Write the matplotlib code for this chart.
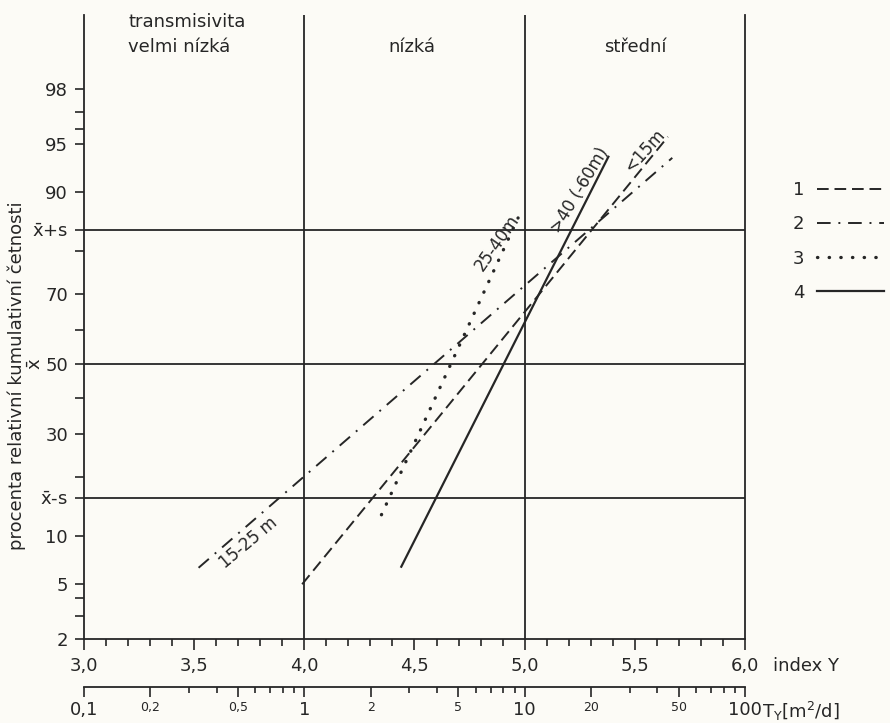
import math
import numpy as np
import matplotlib
matplotlib.use("Agg")
import matplotlib.pyplot as plt
from matplotlib.lines import Line2D
from matplotlib.ticker import FixedLocator, FixedFormatter, NullFormatter

plt.rcParams['font.family'] = 'DejaVu Sans'
plt.rcParams['mathtext.fontset'] = 'dejavusans'

ink = '#262626'
paper = '#fcfbf6'

# ================================
# Data (index Y vs cumulative %)
# ================================
idx_1 = [3.99, 5.65]   # 1 dashed, <15m
pct_1 = [5.0, 95.5]
idx_2 = [3.52, 5.67]   # 2 dash-dot, 15-25 m
pct_2 = [6.4, 93.8]
idx_3 = [4.35, 4.97]   # 3 dotted, 25-40m
pct_3 = [13.0, 86.2]
idx_4 = [4.44, 5.38]   # 4 solid, >40 (-60m)
pct_4 = [6.5, 93.9]

y_major = [2, 5, 10, 15.87, 30, 50, 70, 84.13, 90, 95, 98]
y_major_labels = ['2', '5', '10', r'$\bar{\mathrm{x}}$-s', '30', '50', '70',
                  r'$\bar{\mathrm{x}}$+s', '90', '95', '98']
y_minor = [3, 4, 20, 40, 60, 80, 96, 97]

x_major = [3.0, 3.5, 4.0, 4.5, 5.0, 5.5, 6.0]
x_major_labels = ['3,0', '3,5', '4,0', '4,5', '5,0', '5,5', '6,0']

t_big = [0.1, 1, 10, 100]
t_big_labels = ['0,1', '1', '10', '100']
t_small = [0.2, 0.5, 2, 5, 20, 50]
t_small_labels = ['0,2', '0,5', '2', '5', '20', '50']

classes = ['transmisivita\nvelmi nízká', 'nízká', 'střední']


# ================================
# Normal probability scale
# ================================
_erf = np.vectorize(math.erf)


def cdf_pct(z):
    return 50.0 * (1.0 + _erf(np.asarray(z, float) / math.sqrt(2.0)))


def ppf_pct(p):
    p = np.clip(np.asarray(p, float), 1e-6, 100 - 1e-6)
    lo = np.full(p.shape, -8.0)
    hi = np.full(p.shape, 8.0)
    for _ in range(45):
        mid = 0.5 * (lo + hi)
        below = cdf_pct(mid) < p
        lo = np.where(below, mid, lo)
        hi = np.where(below, hi, mid)
    return 0.5 * (lo + hi)


W, H = 890, 723
fig = plt.figure(figsize=(W / 100, H / 100), dpi=100, facecolor=paper)
left, right, bottom, top = 84 / W, 745 / W, 1 - 639 / H, 1 - 15 / H
ax = fig.add_axes([left, bottom, right - left, top - bottom])
ax.set_facecolor(paper)

ax.set_yscale('function', functions=(ppf_pct, cdf_pct))
ax.set_xlim(3.0, 6.0)
ax.set_ylim(2, 99.54)

# grid lines of the classes / mean and sd
for xv in [4.0, 5.0]:
    ax.axvline(xv, color=ink, lw=1.3)
for yv in [15.87, 50, 84.13]:
    ax.axhline(yv, color=ink, lw=1.3)

# ================================
# Lines
# ================================
st1 = dict(color=ink, lw=1.4, ls=(0, (6, 3)))
st2 = dict(color=ink, lw=1.4, ls=(0, (7, 4, 1, 4)))
st3 = dict(color=ink, lw=2.4, ls=(0, (0.1, 3.4)), dash_capstyle='round')
st4 = dict(color=ink, lw=1.6, ls='-')
ax.plot(idx_1, pct_1, **st1)
ax.plot(idx_2, pct_2, **st2)
ax.plot(idx_3, pct_3, **st3)
ax.plot(idx_4, pct_4, **st4)

lab_kw = dict(fontsize=12, color=ink, ha='center', va='center', rotation_mode='anchor')
ax.text(3.745, 9.1, '15-25 m', rotation=40, **lab_kw)
ax.text(4.875, 81.7, '25-40m', rotation=55, **lab_kw)
ax.text(5.25, 90.3, '>40 (-60m)', rotation=59, **lab_kw)
ax.text(5.545, 94.4, '<15m', rotation=48, **lab_kw)

# ================================
# Axes styling
# ================================
ax.spines['top'].set_visible(False)
for s in ['left', 'bottom', 'right']:
    ax.spines[s].set_color(ink)
    ax.spines[s].set_linewidth(1.3)

ax.yaxis.set_major_locator(FixedLocator(y_major))
ax.yaxis.set_major_formatter(FixedFormatter(y_major_labels))
ax.yaxis.set_minor_locator(FixedLocator(y_minor))
ax.yaxis.set_minor_formatter(NullFormatter())
ax.tick_params(axis='y', which='both', direction='out', length=6.5, width=1.2,
               color=ink, labelsize=13, labelcolor=ink, pad=5)

ax.xaxis.set_major_locator(FixedLocator(x_major))
ax.xaxis.set_major_formatter(FixedFormatter(x_major_labels))
ax.xaxis.set_minor_locator(FixedLocator(np.arange(3.0, 6.01, 0.1)))
ax.tick_params(axis='x', which='major', direction='out', length=8, width=1.2,
               color=ink, labelsize=13, labelcolor=ink, pad=5)
ax.tick_params(axis='x', which='minor', direction='out', length=5, width=1.2, color=ink)

ax.annotate(r'$\bar{\mathrm{x}}$', xy=(0, 50), xycoords=('axes fraction', 'data'),
            xytext=(-48, 0), textcoords='offset pixels', rotation=90,
            ha='center', va='center', fontsize=13, color=ink)
ax.annotate('index Y', xy=(1, 0), xycoords='axes fraction', xytext=(28, -27),
            textcoords='offset pixels', ha='left', va='center', fontsize=13, color=ink)

fig.text(17 / W, 1 - 376 / H, 'procenta relativní kumulativní četnosti', rotation=90,
         ha='center', va='center', fontsize=13, color=ink)

# class headers
xtr = ax.get_xaxis_transform()
ax.text(3.2, 0.989, 'transmisivita', transform=xtr, ha='left', va='center',
        fontsize=13, color=ink)
ax.text(3.2, 0.949, 'velmi nízká', transform=xtr, ha='left', va='center',
        fontsize=13, color=ink)
ax.text(4.49, 0.949, classes[1], transform=xtr, ha='center', va='center',
        fontsize=13, color=ink)
ax.text(5.5, 0.949, classes[2], transform=xtr, ha='center', va='center',
        fontsize=13, color=ink)

# ================================
# Secondary transmissivity axis
# ================================
ax2 = fig.add_axes([left, 1 - 687 / H, right - left, 0.001])
ax2.patch.set_visible(False)
for s in ['top', 'left', 'right']:
    ax2.spines[s].set_visible(False)
ax2.spines['bottom'].set_color(ink)
ax2.spines['bottom'].set_linewidth(1.3)
ax2.set_xscale('log')
ax2.set_xlim(0.1, 100)
ax2.set_yticks([])
ticks_all = t_big + t_small
labels_all = t_big_labels + t_small_labels
ax2.xaxis.set_major_locator(FixedLocator(ticks_all))
ax2.xaxis.set_major_formatter(FixedFormatter(labels_all))
minor_t = [m * d for d in [0.1, 1, 10] for m in [3, 4, 6, 7, 8, 9]]
ax2.xaxis.set_minor_locator(FixedLocator(minor_t))
ax2.xaxis.set_minor_formatter(NullFormatter())
ax2.tick_params(axis='x', which='major', direction='out', length=7, width=1.2,
                color=ink, labelsize=13, labelcolor=ink, pad=3)
ax2.tick_params(axis='x', which='minor', direction='out', length=4, width=1.2, color=ink)
for lbl, val in zip(ax2.get_xticklabels(), ticks_all):
    if val in t_small:
        lbl.set_fontsize(9)

ax2.annotate(r'T$_{\mathrm{Y}}$[m$^{2}$/d]', xy=(1, 0), xycoords='axes fraction',
             xytext=(17, -24), textcoords='offset pixels', ha='left', va='center',
             fontsize=13, color=ink)

# ================================
# Legend
# ================================
handles = [Line2D([], [], **st1), Line2D([], [], **st2),
           Line2D([], [], **st3), Line2D([], [], **st4)]
fig.legend(handles, ['1', '2', '3', '4'], markerfirst=False, frameon=False,
           loc='upper left', bbox_to_anchor=(793 / W, 1 - 181 / H),
           borderaxespad=0, borderpad=0, fontsize=13, handlelength=3.7,
           handletextpad=0.7, labelspacing=0.9, labelcolor=ink)

fig.savefig('out.png', dpi=100, facecolor=paper)
